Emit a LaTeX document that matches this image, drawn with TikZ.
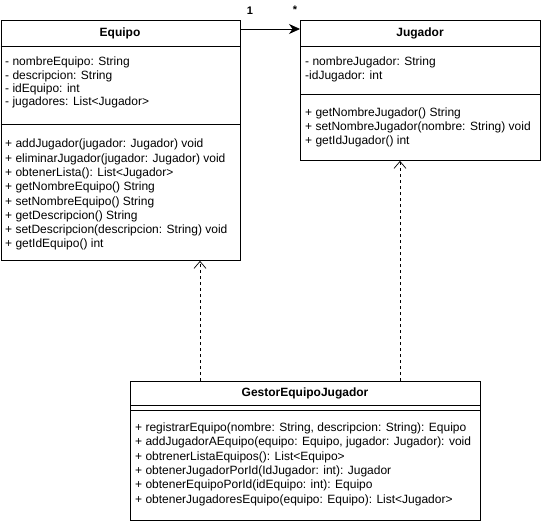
\documentclass[tikz,border=0pt]{standalone}
\usepackage{fontspec}
\setmainfont{Liberation Sans}
\usetikzlibrary{arrows.meta}

\begin{document}
\begin{tikzpicture}[x=1pt,y=1pt,yscale=-1,xscale=1,
    classbox/.style={draw, line width=0.9pt, anchor=north west, inner sep=0pt},
    member/.style={anchor=north west, inner sep=0pt, align=left, font=\fontsize{12}{13.3}\selectfont},
    title/.style={inner sep=0pt, font=\fontsize{12}{13}\selectfont\bfseries},
    assoc/.style={line width=0.8pt, -{Stealth[length=11pt,width=10pt]}},
    depend/.style={line width=0.7pt, dash pattern=on 3pt off 3pt, -{Straight Barb[length=7pt,width=12pt]}}]
        \useasboundingbox (0,0) rectangle (541,524);

        %Shape: Class Equipo
        \node [classbox, minimum width=239.5pt, minimum height=240pt] (equipo) at (0.5,20) {};
        \draw [line width=0.9pt] (0.5,46.5) -- (240,46.5) ;
        \draw [line width=0.9pt] (0.5,124.5) -- (240,124.5) ;
        %Shape: Class Jugador
        \node [classbox, minimum width=240pt, minimum height=140pt] (jugador) at (300,20) {};
        \draw [line width=0.9pt] (300,46.5) -- (540,46.5) ;
        \draw [line width=0.9pt] (300,94.5) -- (540,94.5) ;
        %Shape: Class GestorEquipoJugador
        \node [classbox, minimum width=350pt, minimum height=139pt] (gestor) at (130,381) {};
        \draw [line width=0.9pt] (130,405) -- (480,405) ;
        \draw [line width=0.9pt] (130,410) -- (480,410) ;

        % Text Node
        \node [title] (equipotitle) at (120,33.5) {Equipo};
        % Text Node
        \node [title] (jugadortitle) at (420,33.5) {Jugador};
        % Text Node
        \node [title] (gestortitle) at (305,393.5) {GestorEquipoJugador};
        % Text Node
        \node [member] (equipoattr) at (5,57) {- nombreEquipo: String\\- descripcion: String\\- idEquipo: int\\- jugadores: List<Jugador>};
        % Text Node
        \node [member, font=\fontsize{12}{14.3}\selectfont] (equipoops) at (5,139) {+ addJugador(jugador: Jugador) void\\+ eliminarJugador(jugador: Jugador) void\\+ obtenerLista(): List<Jugador>\\+ getNombreEquipo() String\\+ setNombreEquipo() String\\+ getDescripcion() String\\+ setDescripcion(descripcion: String) void\\+ getIdEquipo() int};
        % Text Node
        \node [member] (jugadorattr) at (305,57) {- nombreJugador: String\\-idJugador: int};
        % Text Node
        \node [member, font=\fontsize{12}{14}\selectfont] (jugadorops) at (305,108) {+ getNombreJugador() String\\+ setNombreJugador(nombre: String) void\\+ getIdJugador() int};
        % Text Node
        \node [member, font=\fontsize{12}{14.4}\selectfont] (gestorops) at (135,422.5) {+ registrarEquipo(nombre: String, descripcion: String): Equipo\\+ addJugadorAEquipo(equipo: Equipo, jugador: Jugador): void\\+ obtrenerListaEquipos(): List<Equipo>\\+ obtenerJugadorPorId(IdJugador: int): Jugador\\+ obtenerEquipoPorId(idEquipo: int): Equipo\\+ obtenerJugadoresEquipo(equipo: Equipo): List<Jugador>};

        %Straight Lines: association
        \draw [assoc] ([yshift=9pt]equipo.north east) -- ([yshift=9pt]jugador.north west) ;
        \node [title, font=\fontsize{11}{12}\selectfont\bfseries] (multone) at (250,11) {1};
        \node [title, font=\fontsize{11}{12}\selectfont\bfseries] (multmany) at (295,10) {*};
        %Straight Lines: dependencies
        \draw [depend] ([xshift=70pt]gestor.north west) -- ([xshift=70pt]gestor.north west |- equipo.south) ;
        \draw [depend] ([xshift=270pt]gestor.north west) -- ([xshift=270pt]gestor.north west |- jugador.south) ;
\end{tikzpicture}
\end{document}
